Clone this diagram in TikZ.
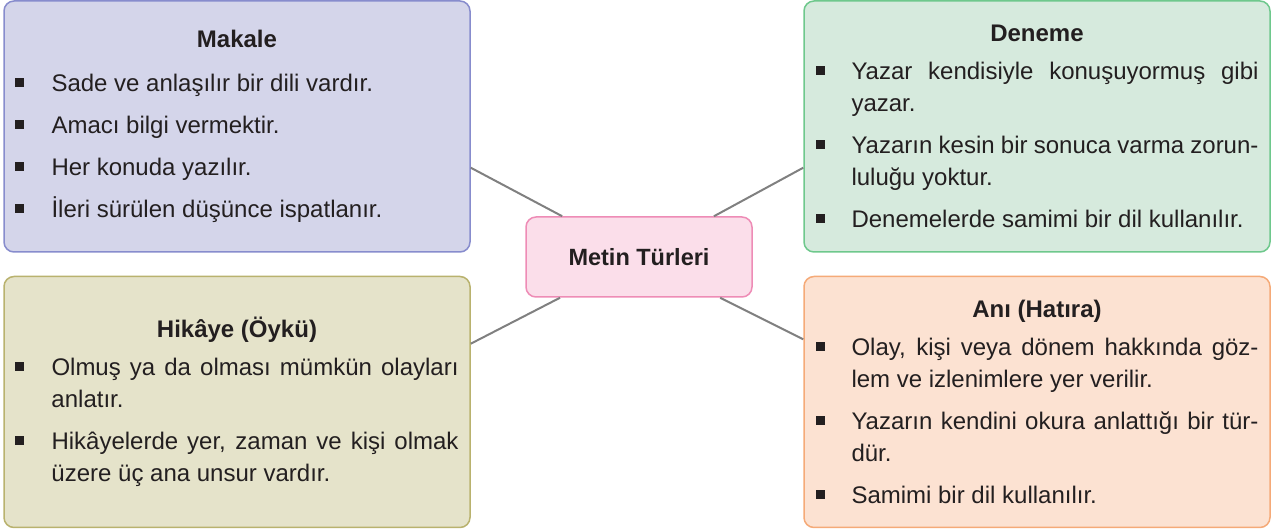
\documentclass[tikz,border=0pt]{standalone}
\usepackage{fontspec}
\setmainfont{Liberation Sans}
\usepackage{tikz}
\hyphenpenalty=10000
\tolerance=9999
\definecolor{yazi}{RGB}{35,31,32}
\definecolor{cizgi}{RGB}{128,128,128}
\definecolor{makaleic}{RGB}{212,213,234}
\definecolor{makalekenar}{RGB}{135,140,205}
\definecolor{denemeic}{RGB}{214,234,221}
\definecolor{denemekenar}{RGB}{110,200,140}
\definecolor{hikayeic}{RGB}{229,227,202}
\definecolor{hikayekenar}{RGB}{185,178,110}
\definecolor{aniic}{RGB}{252,226,210}
\definecolor{anikenar}{RGB}{245,170,120}
\definecolor{merkezic}{RGB}{251,222,234}
\definecolor{merkezkenar}{RGB}{238,140,182}
\newcommand{\govde}{\fontsize{24}{32}\selectfont}
\newcommand{\baslik}[1]{{\centering\bfseries #1\par}\vspace{-4pt}}
\newcommand{\madde}[1]{\par\vspace{10pt}\hangindent=36pt\hangafter=1\noindent\hbox to 36pt{\rule[5pt]{9pt}{8.5pt}\hfil}#1\par}
\tikzset{
  kutu/.style={draw, line width=1.5pt, rounded corners=10pt, text width=443pt, inner xsep=11.5pt,
    minimum height=251pt, align=justify, text=yazi, font=\govde},
  merkez/.style={draw=merkezkenar, fill=merkezic, line width=1.5pt, rounded corners=10pt,
    minimum width=226pt, minimum height=80pt, text=yazi, font=\fontsize{23.5}{32}\selectfont\bfseries},
  baglanti/.style={draw=cizgi, line width=2pt}
}
\begin{document}
\begin{tikzpicture}[x=1pt,y=1pt]
                \useasboundingbox (0,0) rectangle (1275,532);
                \node[kutu, draw=makalekenar, fill=makaleic] (makale) at (237,405.5) {\vspace*{6pt}\baslik{Makale}
                  \madde{Sade ve anlaşılır bir dili vardır.}
                  \madde{Amacı bilgi vermektir.}
                  \madde{Her konuda yazılır.}
                  \madde{İleri sürülen düşünce ispatlanır.}};
                \node[kutu, draw=denemekenar, fill=denemeic] (deneme) at (1037,405.5) {\baslik{Deneme}
                  \madde{Yazar kendisiyle konuşuyormuş gibi\linebreak yazar.}
                  \madde{Yazarın kesin bir sonuca varma zorun-\linebreak luluğu yoktur.}
                  \madde{Denemelerde samimi bir dil kullanılır.}};
                \node[kutu, draw=hikayekenar, fill=hikayeic] (hikaye) at (237,130) {\baslik{Hikâye (Öykü)}
                  \madde{Olmuş ya da olması mümkün olayları\linebreak anlatır.}
                  \madde{Hikâyelerde yer, zaman ve kişi olmak\linebreak üzere üç ana unsur vardır.}};
                \node[kutu, draw=anikenar, fill=aniic] (ani) at (1037,130) {\baslik{Anı (Hatıra)}
                  \madde{Olay, kişi veya dönem hakkında göz-\linebreak lem ve izlenimlere yer verilir.}
                  \madde{Yazarın kendini okura anlattığı bir tür-\linebreak dür.}
                  \madde{Samimi bir dil kullanılır.}};
                \node[merkez] (metin) at (639,275) {Metin Türleri};
                \draw[baglanti] (metin) -- (makale.-10);
                \draw[baglanti] (metin) -- (deneme.190.3);
                \draw[baglanti] (metin) -- (hikaye.14.5);
                \draw[baglanti] (metin) -- (ani.165.1);
            \end{tikzpicture}
\end{document}
